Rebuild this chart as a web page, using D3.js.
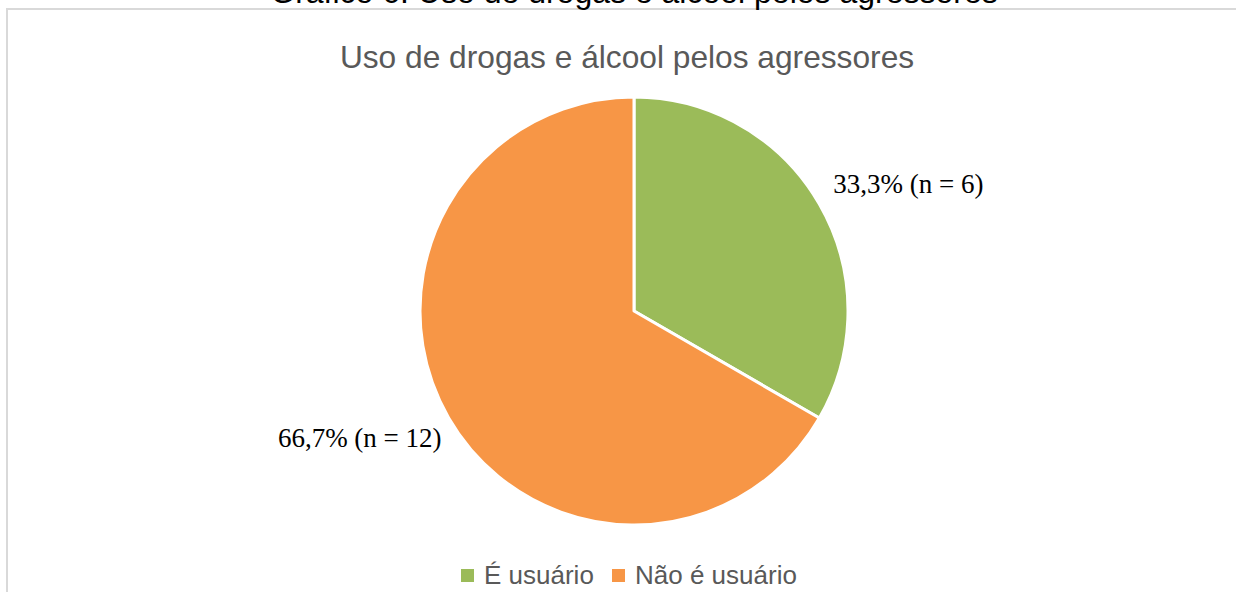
<!DOCTYPE html>
<html>
<head>
<meta charset="utf-8">
<script src="https://cdn.jsdelivr.net/npm/d3@7"></script>
<style>
  body { margin: 0; background: #ffffff; }
</style>
</head>
<body>
<script>
var w = 1236;
var h = 592;

// data
var categories = ["É usuário", "Não é usuário"];
var counts = [6, 12];
var labels = ["33,3% (n = 6)", "66,7% (n = 12)"];
var colors = ["#9BBB59", "#F79646"];

var svg = d3.select("body")
    .append("svg")
    .attr("width", w)
    .attr("height", h);

svg.append("rect")
    .attr("width", w)
    .attr("height", h)
    .attr("fill", "#ffffff");

// frame of the chart area
svg.append("rect")
    .attr("x", 7)
    .attr("y", 9)
    .attr("width", w + 20)
    .attr("height", h + 20)
    .attr("fill", "none")
    .attr("stroke", "#d9d9d9")
    .attr("stroke-width", 2);

// caption above the frame (cut off at the top, as in the source)
svg.append("text")
    .text("Gráfico 6. Uso de drogas e álcool pelos agressores")
    .attr("x", 634)
    .attr("y", 3)
    .attr("text-anchor", "middle")
    .attr("font-family", "Liberation Sans, Arial, sans-serif")
    .attr("font-size", 32)
    .attr("fill", "#000000");

svg.append("text")
    .text("Uso de drogas e álcool pelos agressores")
    .attr("x", 627)
    .attr("y", 68)
    .attr("text-anchor", "middle")
    .attr("font-family", "Liberation Sans, Arial, sans-serif")
    .attr("font-size", 31.7)
    .attr("fill", "#595959");

var cx = 634, cy = 311, r = 214;

var pie = d3.pie().sort(null).value(function(d) { return d; });
var arc = d3.arc().innerRadius(0).outerRadius(r);
var arcs = pie(counts);

var g = svg.append("g").attr("transform", "translate(" + cx + "," + cy + ")");

g.selectAll("path")
    .data(arcs)
    .enter()
    .append("path")
    .attr("d", arc)
    .attr("fill", function(d, i) { return colors[i]; })
    .attr("stroke", "#ffffff")
    .attr("stroke-width", 3)
    .attr("stroke-linejoin", "round");

// data labels outside the slices
g.selectAll("text.lbl")
    .data(arcs)
    .enter()
    .append("text")
    .attr("class", "lbl")
    .text(function(d, i) { return labels[i]; })
    .attr("x", function(d) {
        var a = (d.startAngle + d.endAngle) / 2;
        return Math.sin(a) * r * 1.48;
    })
    .attr("y", function(d) {
        var a = (d.startAngle + d.endAngle) / 2;
        return -Math.cos(a) * r * 1.19 + 9;
    })
    .attr("text-anchor", "middle")
    .attr("font-family", "Liberation Serif, Times New Roman, serif")
    .attr("font-size", 27)
    .attr("fill", "#000000");

// legend
var legend = svg.append("g");
var lx = [461, 612];
categories.forEach(function(c, i) {
    legend.append("rect")
        .attr("x", lx[i])
        .attr("y", 569)
        .attr("width", 13)
        .attr("height", 13)
        .attr("fill", colors[i]);
    legend.append("text")
        .text(c)
        .attr("x", lx[i] + 23)
        .attr("y", 584)
        .attr("font-family", "Liberation Sans, Arial, sans-serif")
        .attr("font-size", 26)
        .attr("fill", "#595959");
});
</script>
</body>
</html>
